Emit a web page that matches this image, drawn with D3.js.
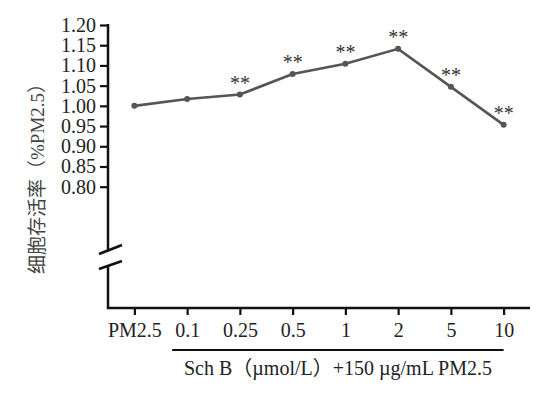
<!DOCTYPE html>
<html>
<head>
<meta charset="utf-8">
<script src="https://cdn.jsdelivr.net/npm/d3@7"></script>
<style>
  body { margin: 0; background: #fff; }
  svg text { font-family: "Liberation Serif", "Noto Sans CJK SC", serif; }
</style>
</head>
<body>
<div id="chart"></div>
<script>
// Data
const doses = ["PM2.5", "0.1", "0.25", "0.5", "1", "2", "5", "10"];
const viability = [1.000, 1.017, 1.028, 1.079, 1.104, 1.141, 1.047, 0.953];
const marks = ["", "", "**", "**", "**", "**", "**", "**"];
const yTicks = [0.80, 0.85, 0.90, 0.95, 1.00, 1.05, 1.10, 1.15, 1.20];

const width = 552, height = 393;
const x0 = 108, x1 = 530, yBottom = 308;

const svg = d3.select("#chart")
    .append("svg")
    .attr("width", width)
    .attr("height", height);

// Scales
const x = d3.scalePoint()
    .domain(doses)
    .range([x0, x1])
    .padding(0.5);

const y = d3.scaleLinear()
    .domain([0.5, 1.2])
    .range([yBottom, 25]);

// Y axis (ticks only 0.80 - 1.20, broken below)
const yAxis = svg.append("g")
    .attr("transform", `translate(${x0},0)`)
    .call(d3.axisLeft(y).tickValues(yTicks).tickFormat(d3.format(".2f")).tickSize(8).tickPadding(4));
yAxis.select(".domain").remove();
yAxis.selectAll(".tick line").attr("stroke", "#111").attr("stroke-width", 2.2);
yAxis.selectAll(".tick text")
    .style("font-size", "20px")
    .attr("fill", "#222");

// axis line with break
svg.append("line").attr("x1", x0).attr("x2", x0).attr("y1", y(1.2) - 1).attr("y2", 250)
    .attr("stroke", "#111").attr("stroke-width", 2.5);
svg.append("line").attr("x1", x0).attr("x2", x0).attr("y1", 265).attr("y2", yBottom)
    .attr("stroke", "#111").attr("stroke-width", 2.5);
[[254, 245], [269, 261]].forEach(([a, b]) => {
  svg.append("line").attr("x1", 99).attr("x2", 122).attr("y1", a).attr("y2", b)
      .attr("stroke", "#111").attr("stroke-width", 2.8);
});

// X axis
const xAxis = svg.append("g")
    .attr("transform", `translate(0,${yBottom})`)
    .call(d3.axisBottom(x).tickSize(7).tickPadding(8));
xAxis.select(".domain").remove();
xAxis.selectAll(".tick line").attr("stroke", "#111").attr("stroke-width", 2.2);
xAxis.selectAll(".tick text")
    .style("font-size", "20px")
    .attr("fill", "#222");
svg.append("line").attr("x1", x0 - 1.2).attr("x2", x1).attr("y1", yBottom).attr("y2", yBottom)
    .attr("stroke", "#111").attr("stroke-width", 2.5);

// group underline and title
svg.append("line")
    .attr("x1", x(doses[1]) - 15).attr("x2", x(doses[doses.length - 1]))
    .attr("y1", 350).attr("y2", 350)
    .attr("stroke", "#111").attr("stroke-width", 2);
svg.append("text")
    .attr("x", 338).attr("y", 375)
    .attr("text-anchor", "middle")
    .style("font-size", "20px")
    .attr("fill", "#222")
    .text("Sch B\uff08\u00b5mol/L\uff09+150 \u00b5g/mL PM2.5");

// Y label
svg.append("text")
    .attr("transform", `translate(44,174) rotate(-90)`)
    .attr("text-anchor", "middle")
    .style("font-size", "19px")
    .attr("fill", "#444")
    .text("细胞存活率（%PM2.5）");

// Line
const pts = doses.map((d, i) => ({ dose: d, v: viability[i], m: marks[i] }));
svg.append("path")
    .datum(pts)
    .attr("fill", "none")
    .attr("stroke", "#555")
    .attr("stroke-width", 2.6)
    .attr("d", d3.line().x(d => x(d.dose)).y(d => y(d.v)));

svg.selectAll(".pt")
    .data(pts)
    .enter()
    .append("circle")
    .attr("cx", d => x(d.dose))
    .attr("cy", d => y(d.v))
    .attr("r", 3)
    .attr("fill", "#555");

// Significance marks
svg.selectAll(".sig")
    .data(pts.filter(d => d.m))
    .enter()
    .append("text")
    .attr("x", d => x(d.dose))
    .attr("y", d => y(d.v) - 5)
    .attr("text-anchor", "middle")
    .style("font-size", "20px")
    .attr("fill", "#333")
    .text(d => d.m);
</script>
</body>
</html>
